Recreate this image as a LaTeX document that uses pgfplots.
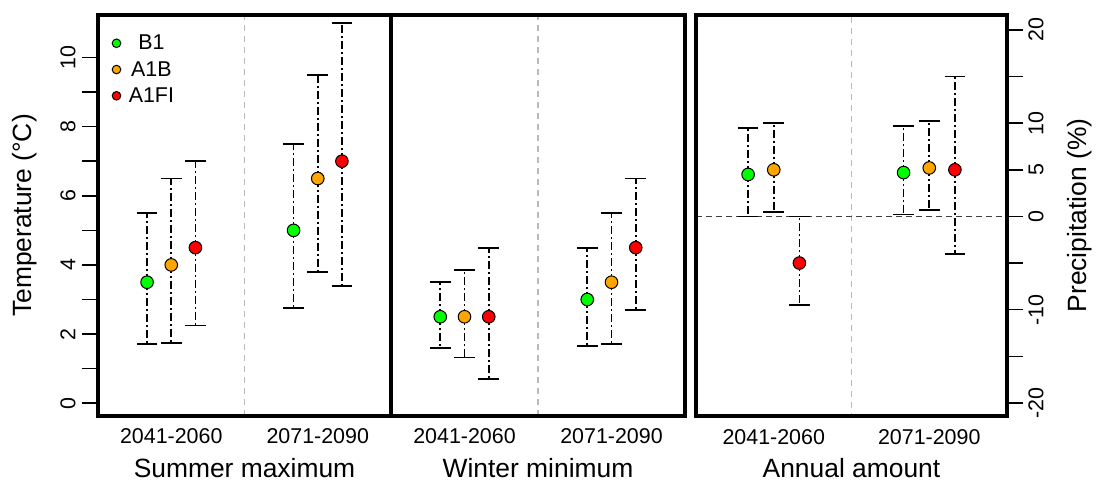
\documentclass[border=0pt]{standalone}
\usepackage{fontspec}
\setmainfont{Liberation Sans}
\usepackage{pgfplots}
\usepackage{pgfplotstable}
\pgfplotsset{compat=1.18}

\definecolor{rgreen}{RGB}{0,255,0}
\definecolor{rorange}{RGB}{255,165,0}
\definecolor{rred}{RGB}{255,0,0}

% x: 1 and 3 are the two periods, the three scenarios sit at -1/3, 0, +1/3
\pgfplotstableread{
x y lo hi s
0.67 3.5 1.72 5.5 B1
1.00 4.0 1.75 6.5 A1B
1.33 4.5 2.25 7.0 A1FI
2.67 5.0 2.75 7.5 B1
3.00 6.5 3.8 9.5 A1B
3.33 7.0 3.4 11.0 A1FI
}\summer

\pgfplotstableread{
x y lo hi s
0.67 2.5 1.6 3.5 B1
1.00 2.5 1.32 3.85 A1B
1.33 2.5 0.7 4.5 A1FI
2.67 3.0 1.65 4.5 B1
3.00 3.5 1.72 5.5 A1B
3.33 4.5 2.7 6.5 A1FI
}\winter

\pgfplotstableread{
x y lo hi s
0.67 4.5 0.0 9.5 B1
1.00 5.0 0.5 10.0 A1B
1.33 -5.0 -9.5 0.0 A1FI
2.67 4.7 0.2 9.7 B1
3.00 5.2 0.7 10.2 A1B
3.33 5.0 -4.0 15.0 A1FI
}\precip

\pgfplotsset{
  panel/.style={
    scale only axis, height=401bp,
    xmin=0, xmax=4,
    xtick={1,3}, xticklabels={2041-2060,2071-2090},
    xtick style={draw=none},
    tick align=outside, major tick length=16bp,
    ytick style={line width=1.6bp, black},
    ticklabel style={font=\fontsize{21.5}{25}\selectfont},
    label style={font=\fontsize{26.5}{30}\selectfont},
    xticklabel style={anchor=base, yshift=-12bp},
    xlabel style={at={(axis description cs:0.5,-0.153)}, anchor=base},
  },
  bars/.style={forget plot, only marks, mark=none,
    error bars/.cd, y dir=both, y explicit,
    error bar style={line width=1.6bp, black, dash pattern=on 8bp off 3bp on 2bp off 3bp},
    error mark options={rotate=90, mark size=10.3bp, line width=1.8bp, solid, black}},
  dots/.style={scatter, only marks, line width=1bp, mark size=6.3bp,
    point meta=explicit symbolic,
    legend image code/.code={\draw[##1, mark size=4.3bp] plot coordinates {(0bp,0bp)};},
    scatter/classes={
      B1={mark=*, fill=rgreen, draw=black},
      A1B={mark=*, fill=rorange, draw=black},
      A1FI={mark=*, fill=rred, draw=black}}},
  sep/.style={forget plot, gray!55, line width=1.1bp, dash pattern=on 6bp off 5bp},
}

\begin{document}
\begin{tikzpicture}
\useasboundingbox (0,0) rectangle (1098bp,482bp);

\begin{axis}[panel, name=p1, at={(98bp,66bp)}, anchor=south west, width=293bp,
  ymin=-0.37, ymax=11.23, ytick={0,...,10}, yticklabels={0,,2,,4,,6,,8,,10},
  ytick pos=left, yticklabel style={rotate=90, anchor=south}, yticklabel shift=3bp,
  ylabel={Temperature (°C)},
  ylabel style={at={(axis description cs:-0.249,0.5)}, anchor=center, rotate=0},
  xlabel={Summer maximum},
  legend style={at={(axis description cs:0.0,1.0)}, anchor=north west, xshift=14bp, yshift=-20bp,
    draw=none, fill=none, inner sep=0pt, nodes={inner sep=0pt},
    font=\fontsize{21.5}{25}\selectfont, row sep=10bp,
    /tikz/every odd column/.append style={column sep=8bp}}]
\addplot[sep] coordinates {(2,-1) (2,12)};
\addplot[bars] table[x=x, y=y, y error plus expr=\thisrow{hi}-\thisrow{y}, y error minus expr=\thisrow{y}-\thisrow{lo}] {\summer};
\addplot[dots] table[x=x, y=y, meta=s] {\summer};
\legend{B1,A1B,A1FI}
\end{axis}

\begin{axis}[panel, name=p2, at={(391bp,66bp)}, anchor=south west, width=294bp,
  ymin=-0.37, ymax=11.23, ytick=\empty,
  xlabel={Winter minimum}]
\addplot[sep] coordinates {(2,-1) (2,12)};
\addplot[bars] table[x=x, y=y, y error plus expr=\thisrow{hi}-\thisrow{y}, y error minus expr=\thisrow{y}-\thisrow{lo}] {\winter};
\addplot[dots] table[x=x, y=y, meta=s] {\winter};
\end{axis}

\begin{axis}[panel, name=p3, at={(696bp,66bp)}, anchor=south west, width=311bp,
  ymin=-21.4, ymax=21.6, ytick={-20,-15,...,20}, yticklabels={-20,,-10,,0,5,10,,20},
  ytick pos=right, yticklabel pos=right, yticklabel style={rotate=90, anchor=north},
  yticklabel shift=2bp,
  ylabel={Precipitation (\%)},
  ylabel style={at={(axis description cs:1.235,0.5)}, anchor=center, rotate=0},
  xlabel={Annual amount}]
\addplot[sep] coordinates {(2,-30) (2,30)};
\addplot[forget plot, black!75, line width=1.3bp, dash pattern=on 6bp off 4bp] coordinates {(0,0) (4,0)};
\addplot[bars] table[x=x, y=y, y error plus expr=\thisrow{hi}-\thisrow{y}, y error minus expr=\thisrow{y}-\thisrow{lo}] {\precip};
\addplot[dots] table[x=x, y=y, meta=s] {\precip};
\end{axis}

% heavy R-style box round each panel
\foreach \p in {p1,p2,p3}
  \draw[line width=3.2bp] (\p.south west) rectangle (\p.north east);
\end{tikzpicture}
\end{document}
